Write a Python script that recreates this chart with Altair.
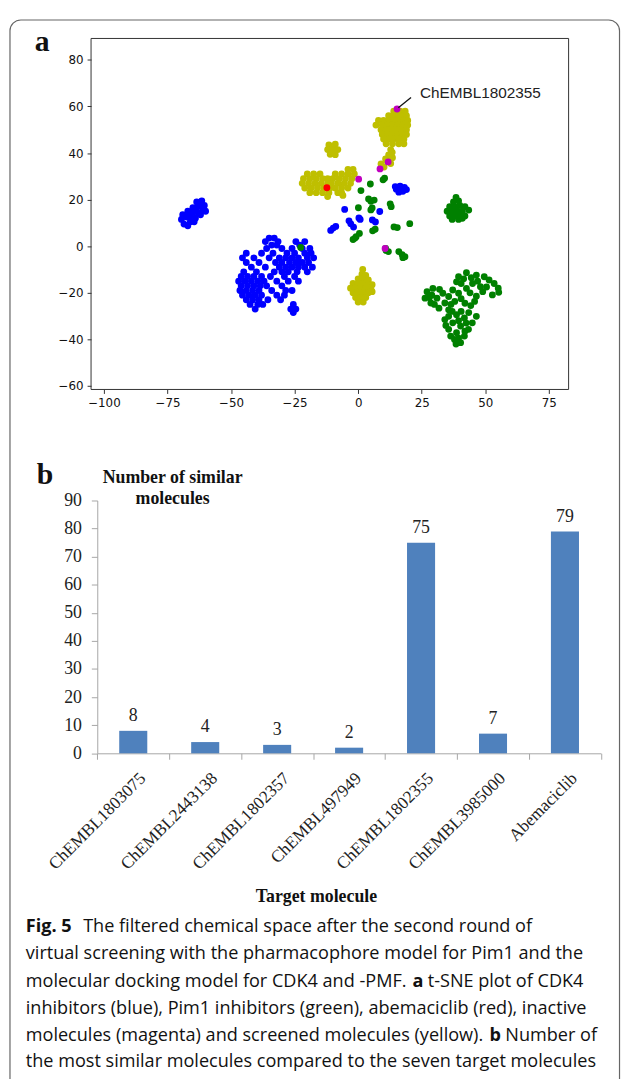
import altair as alt
import pandas as pd

W, H = 620, 1071

# ---------------- panel a: t-SNE points ----------------
CDK4_PTS = [
    # small left cluster
    (-69.5, 11.5), (-68.5, 9.5), (-67, 8.8), (-66, 10.5), (-67.5, 12.5), (-69, 13.5), (-66, 13),
    (-64, 12), (-65, 14.5), (-63, 14.5), (-67, 15), (-62, 13.5), (-61, 15.5), (-63.5, 16.5),
    (-62, 17.5), (-60.5, 17.5), (-65, 16.5), (-63.5, 19), (-61.5, 19.5), (-60, 15), (-64.5, 10.5),
    # big cluster
    (-35, 3.5), (-33, 3.5),
    (-36.5, 2), (-31.5, 2), (-24.5, 2), (-21, 2),
    (-34, 0.5), (-32, 0.5), (-23, 0.5),
    (-36, -1), (-30, -1), (-26, -1), (-22, -1), (-19, -1),
    (-44, -3), (-38, -3), (-33.5, -3), (-28, -3), (-25, -3), (-21, -3), (-18.5, -3),
    (-45.5, -5), (-41, -5), (-35, -5), (-31, -5), (-28.5, -5), (-26, -5), (-23.5, -5), (-20, -5), (-17.5, -5),
    (-44, -7), (-39, -7), (-32.5, -7), (-30, -7), (-27, -7), (-24.5, -7), (-22, -7), (-19.5, -7),
    (-42, -9), (-36.5, -9), (-31, -9), (-28.5, -9), (-26, -9), (-23.5, -9), (-21, -9), (-18, -9),
    (-45, -11), (-40, -11), (-33, -11), (-30, -11), (-27.5, -11), (-24, -11), (-20, -11),
    (-46, -13), (-43.5, -13), (-41, -13), (-38, -13), (-34.5, -13), (-29, -13), (-25, -13),
    (-47, -15), (-44.5, -15), (-42, -15), (-39.5, -15), (-37, -15), (-32, -15), (-27.5, -15), (-23.5, -15),
    (-46, -17), (-43.5, -17), (-41, -17), (-38.5, -17), (-36, -17), (-30, -17),
    (-46.5, -19), (-44, -19), (-41.5, -19), (-39, -19), (-34, -19), (-28.5, -19), (-26, -19),
    (-45.5, -21), (-43, -21), (-40.5, -21), (-38, -21), (-32, -21), (-29, -21),
    (-44, -23), (-41.5, -23), (-39, -23), (-35.5, -23), (-30.5, -23),
    (-42.5, -25), (-39.5, -25), (-37.5, -25), (-25.5, -25),
    (-40.5, -27), (-26.5, -27), (-24.5, -27), (-25.5, -28.5),
    # small right cluster
    (15, 24.5), (16.5, 25.8), (18.2, 25.2), (17.6, 23.6), (16, 23.2), (19, 24.3), (14.6, 25.6),
    # scattered centre
    (-5.3, 15.8), (-9.8, 7.8), (-10.8, 6.8), (-8.8, 8.5), (-2.9, 9.6), (-3.6, 10.9), (0.3, 12.1),
    (-1.8, 8.2), (5.6, 11.3), (6.8, 10.4), (8.5, 14.9), (0.8, 11.5),
]

PIM1_PTS = [
    # scattered centre
    (4.8, 26.7), (1.1, 23.9), (9.8, 28.5), (10.4, 29.2), (0.1, 16.5), (4.1, 20.3), (5.0, 19.3),
    (6.3, 19.8), (5.5, 16.4), (5.0, 15.6), (13.0, 17.0), (12.6, 18.2), (20.3, 9.7), (14.1, 8.3),
    (15.4, 8.0), (6.7, 7.3), (5.7, 6.6), (-0.8, 4.1), (-2.0, 2.9), (0.5, 5.5), (-1.2, 3.5),
    (10.8, -0.9), (11.9, -2.3), (11.0, -1.8), (16.0, -2.3), (17.3, -3.6), (18.4, -4.5), (17.6, -4.9),
    (-22.6, -0.5),
    # right cluster
    (38.5, 21), (37.5, 19), (39.5, 19.5), (36, 17), (38, 17), (40, 17.5), (42, 17), (35, 15), (37, 15),
    (39, 15), (41, 15), (43.5, 15.5), (36, 13), (38, 13), (40, 13), (42, 13), (37, 11.5), (39.5, 11.5),
    (41, 12),
    # big lower-right cluster
    (42.6, -11.4), (39.5, -13.1), (46.5, -12.4), (49.6, -13.1), (44.5, -13.5), (51.5, -14.5),
    (53.5, -16), (55.1, -18), (55.3, -19.8), (52.8, -20.9), (50.5, -17.5), (48.1, -17.4), (47, -15),
    (45, -16), (42.6, -18.1), (40.5, -16), (38.7, -15.3), (44, -20), (46.5, -21.5), (45.8, -23.7),
    (44.3, -25.5), (49, -19.5), (41.5, -14),
    (27.1, -19.5), (26.3, -22.3), (28.6, -24.4), (31, -22.3), (33.3, -20.2), (35.6, -21.6),
    (34.1, -24.4), (31.8, -26.6), (29.4, -18.1), (37.2, -18.8), (39.5, -20.2), (38, -23.7),
    (35.6, -27.3), (29, -21), (32, -18.5), (30, -25), (28, -22), (36.5, -25), (40.5, -22.5), (42, -24.5),
    (35.6, -30.1), (38.7, -29.4), (41.8, -30.8), (44.9, -32.9), (37.2, -32.9), (40.3, -34.3),
    (43.4, -35.7), (35.6, -35.7), (38.7, -37.1), (41.8, -38.6), (37.9, -40), (40.3, -41.4),
    (36.4, -38.6), (34.1, -31.5), (46.5, -30.1), (39.5, -32), (42.5, -33), (34.5, -34), (39.5, -39.5),
    (42, -36.5), (37, -28), (40.5, -28), (43.5, -28.5), (38.5, -42),
]

SCREENED_PTS = [
    # top cluster
    (14, 58), (16.5, 58), (18.5, 58),
    (12, 56), (14, 56), (16, 56), (18, 56), (19, 56),
    (8, 54), (10, 54), (12, 54), (14, 54), (16, 54), (18, 54), (19.5, 54),
    (7, 52), (9.5, 52), (11.5, 52), (13.5, 52), (15.5, 52), (17.5, 52), (19.5, 52),
    (9, 50), (11, 50), (13, 50), (15, 50), (17, 50), (19, 50),
    (9.5, 48), (11.5, 48), (13.5, 48), (15.5, 48), (17.5, 48), (19, 48),
    (10, 46), (12, 46), (14, 46), (16, 46), (18, 46),
    (11, 44), (13.5, 44), (16, 44), (18, 44),
    # stem
    (13.4, 40.3), (12, 39.2), (10.8, 37.5), (12.8, 35.5), (10.2, 34), (9, 35.3), (11.5, 36.5),
    (13.5, 38), (12.8, 41.5),
    # small upper-left cluster
    (-11.5, 43.5), (-9, 43.8), (-12, 41.5), (-10, 41.8), (-8, 41.5), (-11, 39.5), (-9, 39.3), (-10, 40.5),
    # big left cluster
    (-20, 31), (-17.5, 31), (-15, 31),
    (-21.5, 29), (-19, 29), (-16.5, 29), (-14, 29), (-12, 29),
    (-22, 27), (-19.5, 27), (-17, 27), (-14.5, 27), (-12, 27),
    (-21, 25), (-18.5, 25), (-16, 25), (-13.5, 25), (-11, 25),
    (-19, 23), (-16.5, 23), (-14, 23), (-11.5, 23), (-12, 21.3),
    (-4, 33), (-2, 33),
    (-9, 31), (-6.5, 31), (-4, 31), (-1.5, 31),
    (-10, 29), (-7.5, 29), (-5, 29), (-2.5, 29),
    (-10.5, 27), (-8, 27), (-5.5, 27), (-3, 27),
    (-9, 25), (-6.5, 25), (-4, 25),
    (-6.5, 23), (-8, 23), (-6, 21.8),
    # bottom cluster
    (1.8, -10), (1.5, -12), (3, -12.5), (0, -14), (2, -14), (4, -14.5),
    (-2, -16), (0, -16), (2, -16), (4, -16), (5.5, -16.5),
    (-3, -18), (-1, -18), (1, -18), (3, -18), (5, -18),
    (-2, -20), (0, -20), (2, -20), (4, -20), (5.5, -19.5),
    (-1, -22), (1, -22), (3, -22), (0, -24), (2, -24),
]

INACTIVE_PTS = [(15.3, 58.9), (11.8, 36.2), (8.6, 33.2), (0.2, 28.8), (10.6, -1.0)]
ABEMACICLIB_PTS = [(-12.3, 25.1)]

GROUPS = ["CDK4 inhibitors", "Pim1 inhibitors", "screened", "inactive", "abemaciclib"]
GROUP_COLORS = ["#0000ff", "#008000", "#bfbf00", "#bf00bf", "#ff0000"]

SCATTER_X_DOMAIN = [-105.06, 82.78]
SCATTER_Y_DOMAIN = [-61.5, 89.2]
SCATTER_X_TICKS = [-100, -75, -50, -25, 0, 25, 50, 75]
SCATTER_Y_TICKS = [-60, -40, -20, 0, 20, 40, 60, 80]

ANNOT_TEXT = ["ChEMBL1802355"]
ANNOT_TEXT_X = [24.3]
ANNOT_TEXT_Y = [65.9]
ANNOT_LINE = {"x": [15.8], "y": [59.5], "x2": [20.8], "y2": [63.9]}

# ---------------- panel b: bar chart ----------------
TARGETS = ["ChEMBL1803075", "ChEMBL2443138", "ChEMBL1802357", "ChEMBL497949",
           "ChEMBL1802355", "ChEMBL3985000", "Abemaciclib"]
COUNTS = [8, 4, 3, 2, 75, 7, 79]
BAR_Y_TICKS = [0, 10, 20, 30, 40, 50, 60, 70, 80, 90]

Y_TITLE_LINES = ["Number of similar", "molecules"]
X_TITLE = "Target molecule"

CAPTION = [
    [("Fig. 5", True), ("The filtered chemical space after the second round of", False)],
    [("virtual screening with the pharmacophore model for Pim1 and the", False)],
    [("molecular docking model for CDK4 and -PMF.", False), ("a", True), ("t-SNE plot of CDK4", False)],
    [("inhibitors (blue), Pim1 inhibitors (green), abemaciclib (red), inactive", False)],
    [("molecules (magenta) and screened molecules (yellow).", False), ("b", True), ("Number of", False)],
    [("the most similar molecules compared to the seven target molecules", False)],
]

# ---------------- build data ----------------
rows = []
for name, pts in zip(GROUPS, [CDK4_PTS, PIM1_PTS, SCREENED_PTS, INACTIVE_PTS, ABEMACICLIB_PTS]):
    for (px, py) in pts:
        rows.append({"x": px, "y": py, "group": name})
scatter_df = pd.DataFrame(rows)

# pixel layout (chart coordinates)
SC_X_RANGE = [84, 567]
SC_Y_RANGE = [379.7, 24.7]
BAR_X_RANGE = [90.3, 599.7]
BAR_Y_RANGE = [747.7, 492]

xs = alt.Scale(domain=SCATTER_X_DOMAIN, range=SC_X_RANGE, nice=False, zero=False)
ys = alt.Scale(domain=SCATTER_Y_DOMAIN, range=SC_Y_RANGE, nice=False, zero=False)

sc_xaxis = alt.Axis(orient="bottom", offset=SC_Y_RANGE[0] - H, values=SCATTER_X_TICKS, domain=False,
                    grid=False, tickSize=4, tickColor="#333333", tickWidth=1,
                    labelFont="DejaVu Sans", labelFontSize=12, labelColor="#111111", labelPadding=4,
                    title=None)
sc_yaxis = alt.Axis(orient="left", offset=-SC_X_RANGE[0], values=SCATTER_Y_TICKS, domain=False,
                    grid=False, tickSize=4, tickColor="#333333", tickWidth=1,
                    labelFont="DejaVu Sans", labelFontSize=12, labelColor="#111111", labelPadding=4,
                    title=None)

points = alt.Chart(scatter_df).mark_circle(size=48, opacity=1).encode(
    x=alt.X("x:Q", scale=xs, axis=sc_xaxis),
    y=alt.Y("y:Q", scale=ys, axis=sc_yaxis),
    color=alt.Color("group:N", scale=alt.Scale(domain=GROUPS, range=GROUP_COLORS), legend=None),
)

frame_df = pd.DataFrame({"x": [SCATTER_X_DOMAIN[0]], "x2": [SCATTER_X_DOMAIN[1]],
                         "y": [SCATTER_Y_DOMAIN[0]], "y2": [SCATTER_Y_DOMAIN[1]]})
frame = alt.Chart(frame_df).mark_rect(fillOpacity=0, stroke="#333333", strokeWidth=1).encode(
    x=alt.X("x:Q", scale=xs, axis=sc_xaxis), x2="x2:Q",
    y=alt.Y("y:Q", scale=ys, axis=sc_yaxis), y2="y2:Q",
)

annot_line = alt.Chart(pd.DataFrame(ANNOT_LINE)).mark_rule(color="#111111", strokeWidth=1.3).encode(
    x=alt.X("x:Q", scale=xs, axis=sc_xaxis), x2="x2:Q",
    y=alt.Y("y:Q", scale=ys, axis=sc_yaxis), y2="y2:Q",
)
annot_text = alt.Chart(pd.DataFrame({"t": ANNOT_TEXT, "x": ANNOT_TEXT_X, "y": ANNOT_TEXT_Y})).mark_text(
    align="left", baseline="middle", font="Liberation Sans", fontSize=15.5, color="#222222"
).encode(
    x=alt.X("x:Q", scale=xs, axis=sc_xaxis), y=alt.Y("y:Q", scale=ys, axis=sc_yaxis), text="t:N"
)

panel_a = alt.layer(points, frame, annot_line, annot_text)

# bar panel
bar_df = pd.DataFrame({"mol": TARGETS, "n": COUNTS})
bx = alt.Scale(domain=TARGETS, range=BAR_X_RANGE, paddingInner=0, paddingOuter=0)
by = alt.Scale(domain=[0, 90], range=BAR_Y_RANGE, nice=False, zero=True)

bar_xaxis = alt.Axis(orient="bottom", offset=BAR_Y_RANGE[0] - H, tickBand="extent", grid=False,
                     domainColor="#a6a6a6", tickColor="#a6a6a6", tickSize=6,
                     labelAngle=-45, labelAlign="right", labelBaseline="top",
                     labelFont="Liberation Serif", labelFontSize=17.5, labelColor="#222222",
                     labelPadding=10, labelOffset=3, title=None)
bar_yaxis = alt.Axis(orient="left", offset=-BAR_X_RANGE[0], values=BAR_Y_TICKS, grid=False,
                     domainColor="#a6a6a6", tickColor="#a6a6a6", tickSize=6,
                     labelFont="Liberation Serif", labelFontSize=18, labelColor="#222222",
                     labelPadding=10, title=None)

bars = alt.Chart(bar_df).mark_bar(color="#4F81BD", width=alt.RelativeBandSize(0.39)).encode(
    x=alt.X("mol:N", scale=bx, sort=TARGETS, axis=bar_xaxis),
    y=alt.Y("n:Q", scale=by, axis=bar_yaxis),
)
bar_labels = alt.Chart(bar_df).mark_text(
    baseline="alphabetic", dy=-10, font="Liberation Serif", fontSize=18, color="#222222"
).encode(
    x=alt.X("mol:N", scale=bx, sort=TARGETS, axis=bar_xaxis),
    y=alt.Y("n:Q", scale=by, axis=bar_yaxis),
    text="n:Q",
)
panel_b = alt.layer(bars, bar_labels)

# decorations and texts
one = alt.Data(values=[{}])
border = alt.Chart(one).mark_rect(fillOpacity=0, stroke="#666666", strokeWidth=1.2, cornerRadius=11).encode(
    x=alt.value(2), y=alt.value(6), x2=alt.value(618.5), y2=alt.value(1140)
)


def txt(s, x, y, size, bold=False, font="Liberation Serif", align="left", baseline="alphabetic"):
    return alt.Chart(one).mark_text(
        text=s, font=font, fontSize=size, fontWeight="bold" if bold else "normal",
        align=align, baseline=baseline, color="#111111"
    ).encode(x=alt.value(x), y=alt.value(y))


texts = [
    txt("a", 27, 37, 30, bold=True),
    txt("b", 29, 475, 30, bold=True),
    txt(Y_TITLE_LINES[0], 166.5, 469, 18, bold=True, align="center", baseline="middle"),
    txt(Y_TITLE_LINES[1], 166.5, 491, 18, bold=True, align="center", baseline="middle"),
    txt(X_TITLE, 312, 893, 18, bold=True, align="center", baseline="middle"),
]

CAP_SIZE = 18.3
CAP_Y = [923, 951, 978.7, 1006, 1033.7, 1060.3]
CAP_X = [
    [18, 76],
    [18],
    [18, 409, 424.5],
    [18],
    [18, 487, 503],
    [18],
]
for line, ypos, xpos in zip(CAPTION, CAP_Y, CAP_X):
    for (seg, bold), xp in zip(line, xpos):
        texts.append(txt(seg, xp, ypos, CAP_SIZE, bold=bold, font="Open Sans", baseline="middle"))

chart = alt.layer(border, panel_a, panel_b, *texts).resolve_scale(
    x="independent", y="independent"
).properties(
    width=W, height=H, autosize=alt.AutoSizeParams(type="none"), padding=0
).configure_view(strokeWidth=0)

chart.save("out.html", embed_options={"renderer": "svg", "actions": False})
